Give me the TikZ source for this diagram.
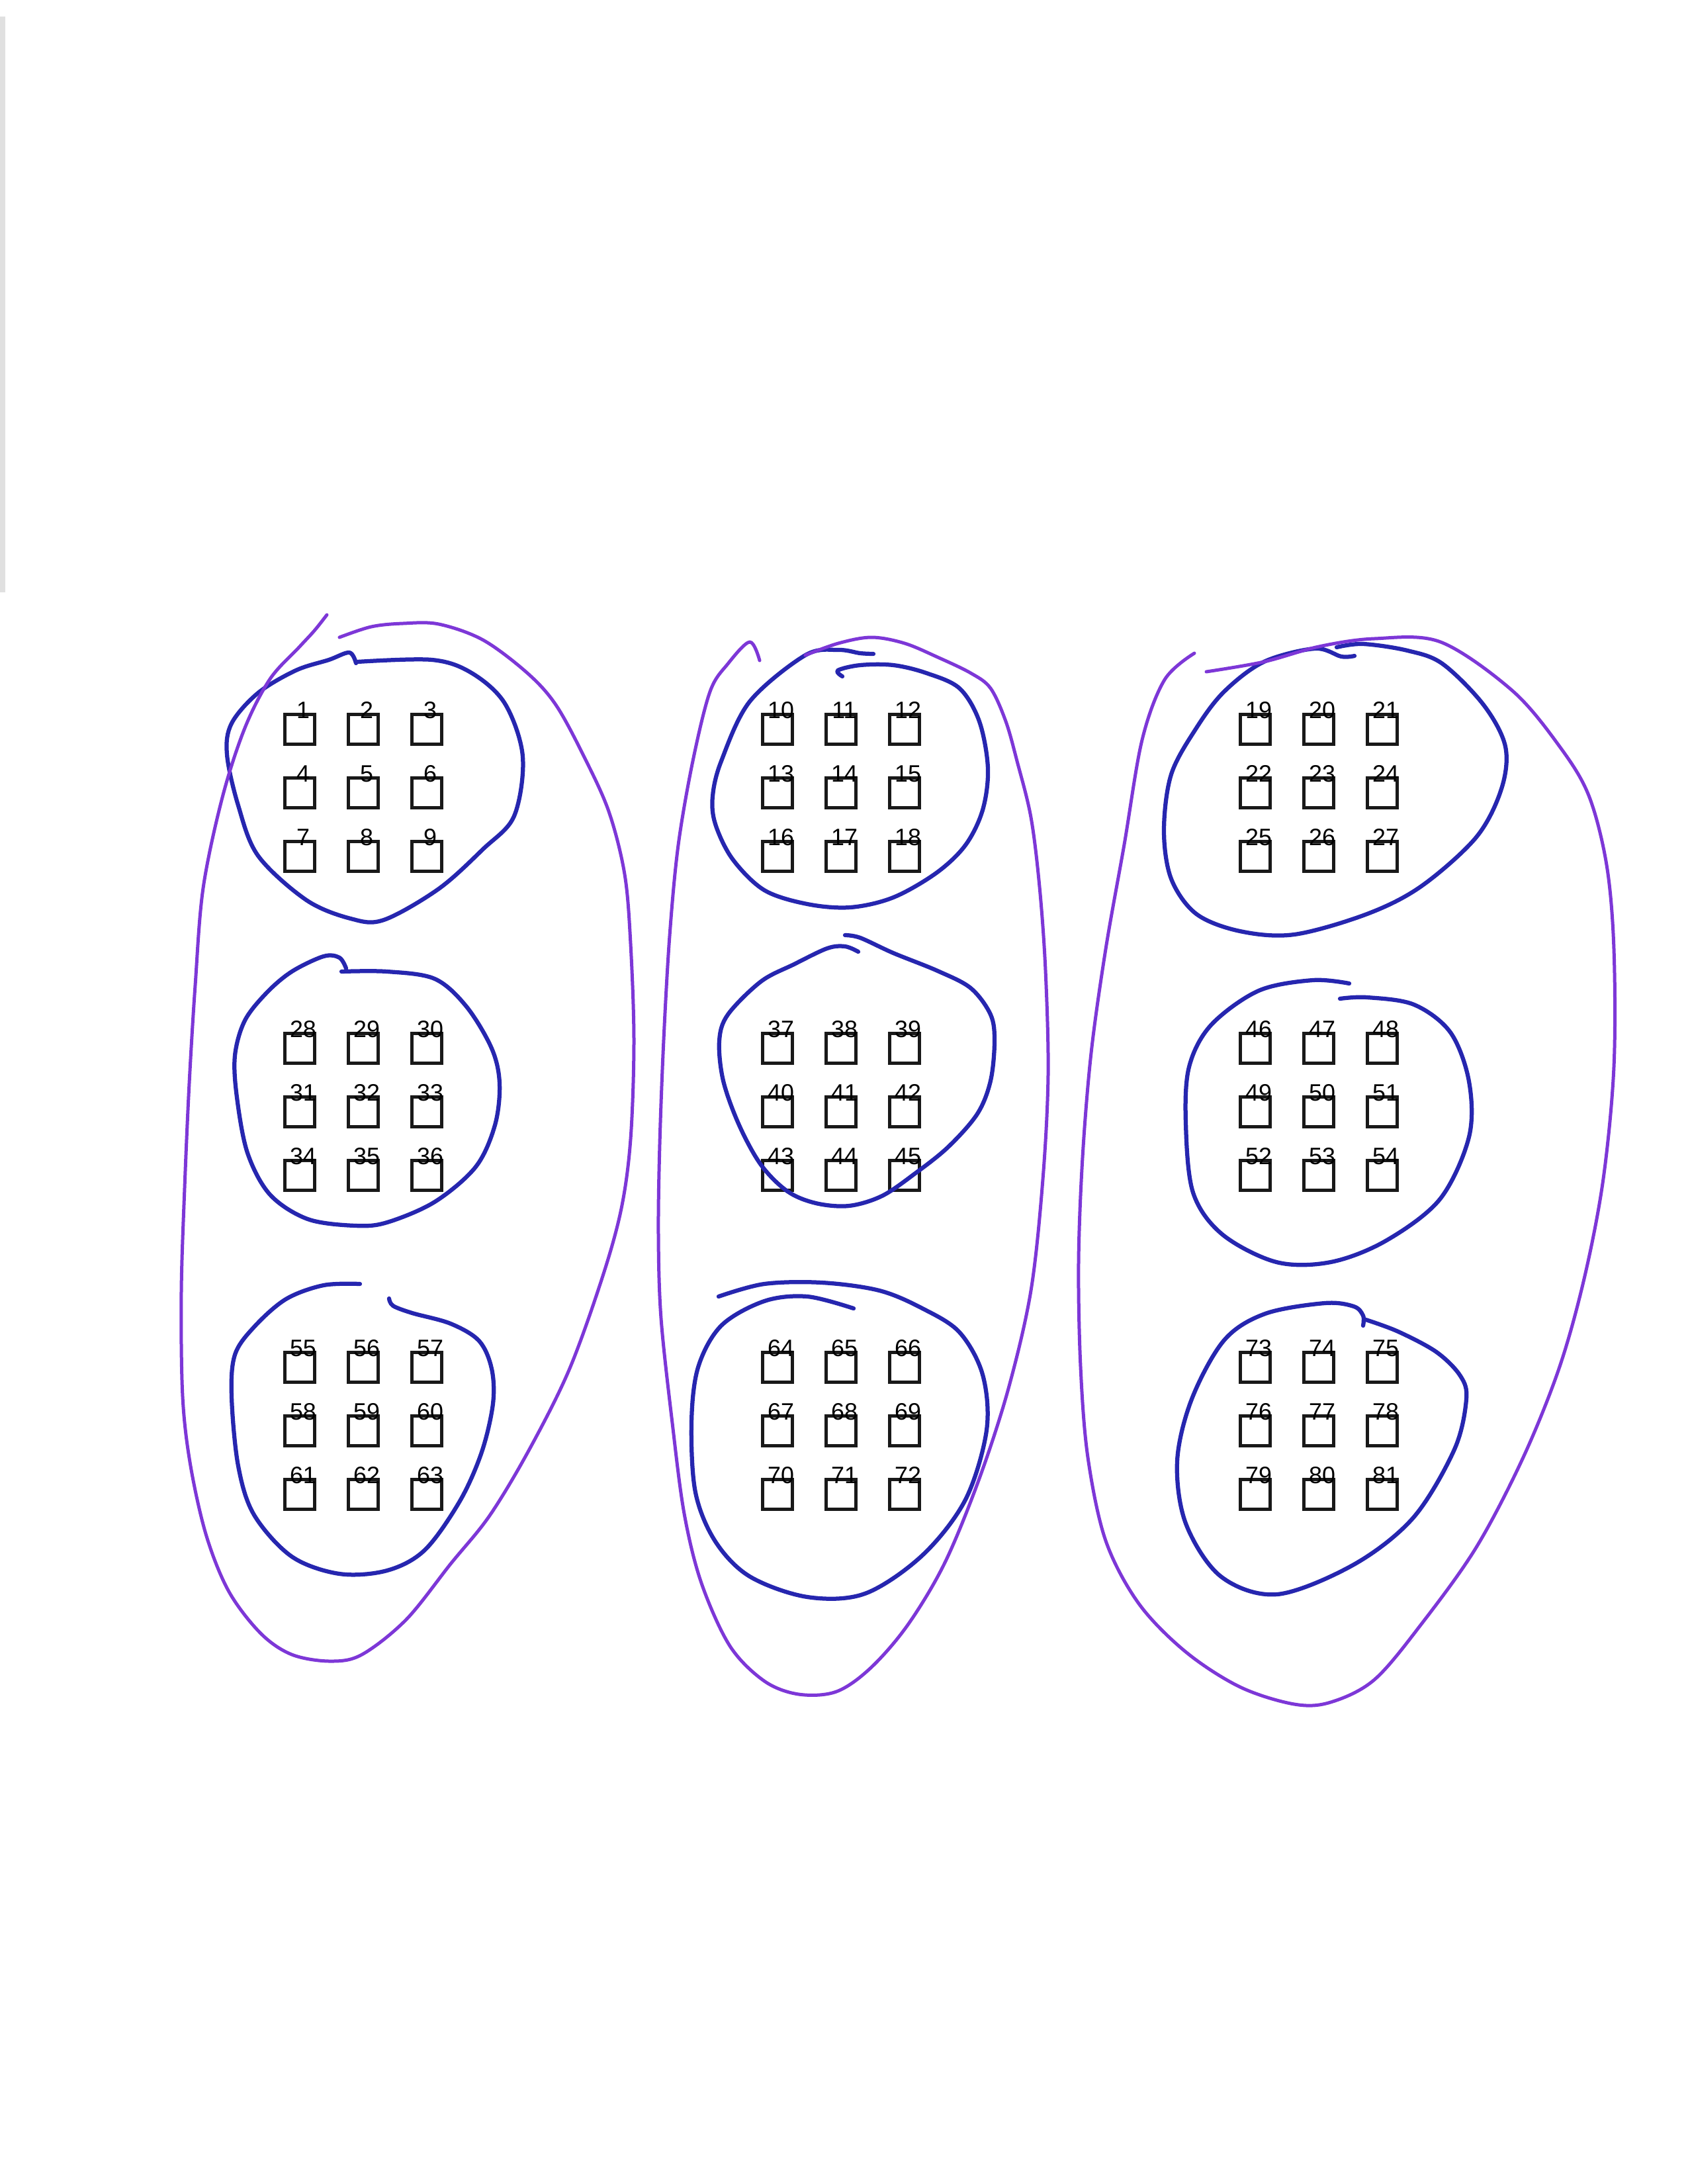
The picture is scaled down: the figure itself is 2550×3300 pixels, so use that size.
\documentclass[tikz,border=0pt]{standalone}
\usepackage{fontspec}
\setmainfont{Liberation Sans}
\usetikzlibrary{positioning}
\definecolor{loopblue}{RGB}{38,38,175}
\definecolor{looppurple}{RGB}{125,55,215}

\begin{document}
\begin{tikzpicture}[
  x=0.24pt, y=-0.24pt,
  cell/.style={draw=black!90, line width=1.2pt, minimum size=10.8pt, inner sep=0pt},
  num/.style={inner sep=0pt, font=\fontsize{8.6}{9}\selectfont},
  inner loop/.style={draw=loopblue, line width=1.5pt, line cap=round, line join=round},
  outer loop/.style={draw=looppurple, line width=1.2pt, line cap=round, line join=round}
]
\useasboundingbox (0,0) rectangle (2550,3300);

% scanner edge
\draw[black!12, line width=1.9pt] (4,25) -- (4,895);

% numbered squares, nine groups of nine
\foreach \R in {0,1,2}
 \foreach \C in {0,1,2}
  \foreach \i in {0,1,2}
   \foreach \j in {0,1,2} {
     \pgfmathtruncatemacro\n{27*\R+9*\C+3*\i+\j+1}
     \node[cell] (s\n) at ({453+722*\C+96*\j},{1102+482*\R+96*\i}) {};
     \node[num] (l\n) at ([xshift=1.2pt,yshift=1.0pt]s\n.north) {\n};
   }

% left column
\draw[inner loop] plot[smooth, tension=0.55] coordinates {(540,1000) (653,997) (713,1017) (763,1063) (790,1143) (777,1233) (730,1283) (663,1343) (580,1390) (530,1388) (463,1360) (390,1293) (360,1217) (343,1140) (350,1093) (390,1047) (447,1013) (497,997) (528,986) (538,1002)};
\draw[inner loop] plot[smooth, tension=0.55] coordinates {(516,1468) (585,1468) (657,1479) (705,1521) (743,1584) (755,1637) (748,1700) (719,1763) (657,1816) (585,1847) (537,1852) (465,1842) (408,1805) (374,1742) (358,1658) (355,1595) (370,1542) (403,1500) (441,1468) (489,1445) (513,1447) (523,1463)};
\draw[inner loop] plot[smooth, tension=0.55] coordinates {(544,1940) (489,1942) (432,1963) (384,2005) (355,2047) (350,2110) (360,2215) (384,2289) (441,2352) (513,2378) (585,2373) (642,2342) (695,2268) (728,2194) (745,2121) (743,2068) (724,2026) (681,2000) (623,1984) (594,1973) (588,1962)};
\draw[outer loop] plot[smooth, tension=0.55] coordinates {(494,929) (475,953) (451,979) (408,1026) (370,1100) (336,1205) (307,1342) (295,1489) (286,1637) (279,1795) (274,1952) (276,2110) (288,2215) (312,2321) (346,2405) (394,2468) (441,2500) (499,2510) (547,2500) (614,2447) (681,2363) (740,2290) (800,2190) (860,2070) (910,1931) (939,1826) (953,1721) (958,1573) (953,1426) (944,1321) (920,1226) (882,1142) (840,1065) (797,1017) (730,967) (663,943) (609,942) (561,947) (513,963)};

% middle column
\draw[inner loop] plot[smooth, tension=0.55] coordinates {(1273,1022) (1266,1013) (1300,1005) (1350,1005) (1400,1017) (1450,1040) (1480,1090) (1493,1161) (1485,1224) (1459,1277) (1415,1319) (1350,1356) (1285,1371) (1220,1366) (1155,1345) (1107,1298) (1081,1245) (1077,1203) (1090,1150) (1133,1060) (1217,990) (1267,982) (1300,987) (1320,988)};
\draw[inner loop] plot[smooth, tension=0.55] coordinates {(1297,1438) (1277,1430) (1250,1433) (1200,1457) (1150,1483) (1100,1533) (1087,1573) (1093,1633) (1117,1700) (1150,1760) (1190,1800) (1233,1818) (1283,1822) (1333,1807) (1383,1773) (1433,1733) (1477,1683) (1497,1633) (1503,1573) (1497,1533) (1467,1493) (1417,1467) (1350,1440) (1300,1417) (1277,1413)};
\draw[inner loop] plot[smooth, tension=0.55] coordinates {(1086,1959) (1155,1940) (1242,1938) (1329,1950) (1394,1977) (1450,2013) (1485,2077) (1491,2161) (1459,2266) (1394,2350) (1307,2408) (1220,2413) (1133,2382) (1081,2329) (1051,2255) (1045,2150) (1055,2066) (1090,2003) (1155,1966) (1220,1959) (1290,1977)};
\draw[outer loop] plot[smooth, tension=0.55] coordinates {(1148,998) (1133,970) (1100,1003) (1073,1045) (1047,1150) (1025,1277) (1012,1414) (1003,1571) (997,1729) (995,1866) (999,1992) (1016,2150) (1034,2287) (1060,2392) (1103,2487) (1155,2540) (1207,2560) (1264,2556) (1316,2520) (1372,2455) (1428,2361) (1480,2234) (1524,2098) (1558,1950) (1576,1782) (1584,1624) (1580,1466) (1571,1340) (1558,1235) (1537,1150) (1520,1090) (1497,1040) (1467,1017) (1417,993) (1367,972) (1317,963) (1267,972) (1217,990)};

% right column
\draw[inner loop] plot[smooth, tension=0.55] coordinates {(2020,978) (2060,973) (2127,983) (2180,1003) (2242,1065) (2275,1128) (2269,1192) (2231,1265) (2148,1339) (2066,1381) (1956,1412) (1874,1407) (1808,1381) (1770,1328) (1759,1255) (1770,1170) (1808,1100) (1850,1045) (1910,1000) (1987,980) (2027,992) (2047,991)};
\draw[inner loop] plot[smooth, tension=0.55] coordinates {(2039,1486) (1984,1481) (1902,1497) (1830,1549) (1797,1612) (1792,1697) (1803,1802) (1847,1865) (1929,1907) (2011,1907) (2094,1875) (2176,1812) (2220,1718) (2220,1634) (2192,1560) (2137,1518) (2066,1507) (2025,1509)};
\draw[inner loop] plot[smooth, tension=0.55] coordinates {(2064,1994) (2113,2012) (2171,2043) (2207,2079) (2216,2114) (2198,2190) (2136,2293) (2046,2364) (1930,2409) (1845,2382) (1792,2302) (1779,2208) (1801,2114) (1850,2025) (1912,1985) (2002,1969) (2046,1974) (2060,1988) (2060,2003)};
\draw[outer loop] plot[smooth, tension=0.55] coordinates {(1805,987) (1760,1027) (1726,1118) (1699,1276) (1671,1434) (1649,1591) (1636,1749) (1630,1907) (1633,2065) (1644,2202) (1671,2328) (1721,2423) (1792,2496) (1874,2549) (1956,2575) (2011,2572) (2077,2538) (2148,2454) (2231,2338) (2302,2202) (2357,2065) (2395,1928) (2423,1781) (2439,1612) (2439,1434) (2428,1307) (2401,1202) (2357,1128) (2286,1044) (2177,970) (2077,965) (1993,977) (1910,1000) (1823,1015)};
\end{tikzpicture}
\end{document}
